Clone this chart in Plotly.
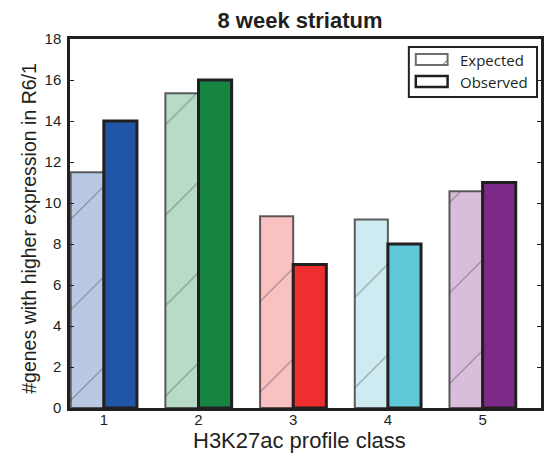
import plotly.graph_objects as go

# H3K27ac profile classes and gene counts (8 week striatum)
classes = [1, 2, 3, 4, 5]
expected = [11.5, 15.35, 9.35, 9.2, 10.57]
observed = [14, 16, 7, 8, 11]

expected_colors = ["#b9c9e4", "#b8dbc8", "#f9c1c1", "#cdebf1", "#d9bedc"]
observed_colors = ["#2156a6", "#168541", "#ee2e2f", "#5ec8d6", "#7b2a87"]

y_ticks = list(range(0, 19, 2))

W, H = 544, 459
M_L, M_R, M_T, M_B = 70, 0, 39, 51
PW, PH = W - M_L - M_R, H - M_T - M_B

SANS = "Liberation Sans, Arial, Helvetica"
INK = "#231f20"


def px(x):
    return (x - M_L) / PW


def py(y):
    return (H - M_B - y) / PH


fig = go.Figure()

fig.add_trace(go.Bar(
    x=classes, y=expected, name="Expected", showlegend=False,
    marker=dict(
        color=expected_colors,
        line=dict(color="rgba(45,40,42,0.75)", width=2),
        pattern=dict(shape="/", size=64, solidity=0.018,
                     fgcolor="#1e1e1e", fillmode="overlay"),
    ),
))
fig.add_trace(go.Bar(
    x=classes, y=observed, name="Observed", showlegend=False,
    marker=dict(color=observed_colors, line=dict(color=INK, width=3)),
))

# legend box drawn by hand
shapes = [
    dict(type="rect", xref="paper", yref="paper",
         x0=px(411), x1=px(540), y0=py(97), y1=py(47),
         line=dict(color=INK, width=2), fillcolor="white", layer="above"),
    dict(type="rect", xref="paper", yref="paper",
         x0=px(418), x1=px(450), y0=py(65), y1=py(54),
         line=dict(color="#6e6e6e", width=2), fillcolor="white", layer="above"),
    dict(type="line", xref="paper", yref="paper",
         x0=px(445), x1=px(450), y0=py(65), y1=py(60),
         line=dict(color="#555555", width=1), layer="above"),
    dict(type="rect", xref="paper", yref="paper",
         x0=px(418), x1=px(450), y0=py(87), y1=py(76),
         line=dict(color=INK, width=2.5), fillcolor="white", layer="above"),
]

legend_font = dict(family="Open Sans, Noto Sans, Arial", size=15, color=INK)
annotations = [
    dict(text="Expected", xref="paper", yref="paper", x=px(460), y=py(60),
         xanchor="left", yanchor="middle", showarrow=False, font=legend_font),
    dict(text="Observed", xref="paper", yref="paper", x=px(460), y=py(81.5),
         xanchor="left", yanchor="middle", showarrow=False, font=legend_font),
    dict(text="H3K27ac profile class", xref="paper", yref="paper",
         x=px(301), y=py(440), xanchor="center", yanchor="middle",
         showarrow=False, font=dict(family=SANS, size=22, color=INK)),
    dict(text="#genes with higher expression in R6/1", xref="paper",
         yref="paper", x=px(28), y=py(228.5), xanchor="center",
         yanchor="middle", textangle=-90, showarrow=False,
         font=dict(family=SANS, size=19.5, color=INK)),
]

fig.update_layout(
    width=W, height=H,
    margin=dict(l=M_L, r=M_R, t=M_T, b=M_B, pad=0),
    paper_bgcolor="white", plot_bgcolor="white",
    barmode="group", bargap=0.3, bargroupgap=0,
    title=dict(text="<b>8 week striatum</b>", x=300 / W, xanchor="center",
               y=1 - 20 / H, yanchor="middle",
               font=dict(family=SANS, size=22, color=INK)),
    shapes=shapes, annotations=annotations,
    font=dict(family=SANS, color=INK),
)

fig.update_xaxes(
    range=[0.643, 0.643 + PW / 95.3],
    tickvals=classes, ticktext=[str(c) for c in classes],
    ticks="inside", ticklen=4, tickwidth=1, tickcolor=INK,
    showline=True, linecolor=INK, linewidth=2.5, mirror=True,
    showgrid=False, zeroline=False, ticklabelstandoff=-4,
    tickfont=dict(family=SANS, size=15, color=INK),
)
fig.update_yaxes(
    range=[0, 18], tickvals=y_ticks,
    ticks="inside", ticklen=4, tickwidth=1, tickcolor=INK,
    showline=True, linecolor=INK, linewidth=2.5, mirror="ticks",
    showgrid=False, zeroline=False, ticklabelstandoff=3,
    tickfont=dict(family=SANS, size=15, color=INK),
)

fig.write_html("out.html")
